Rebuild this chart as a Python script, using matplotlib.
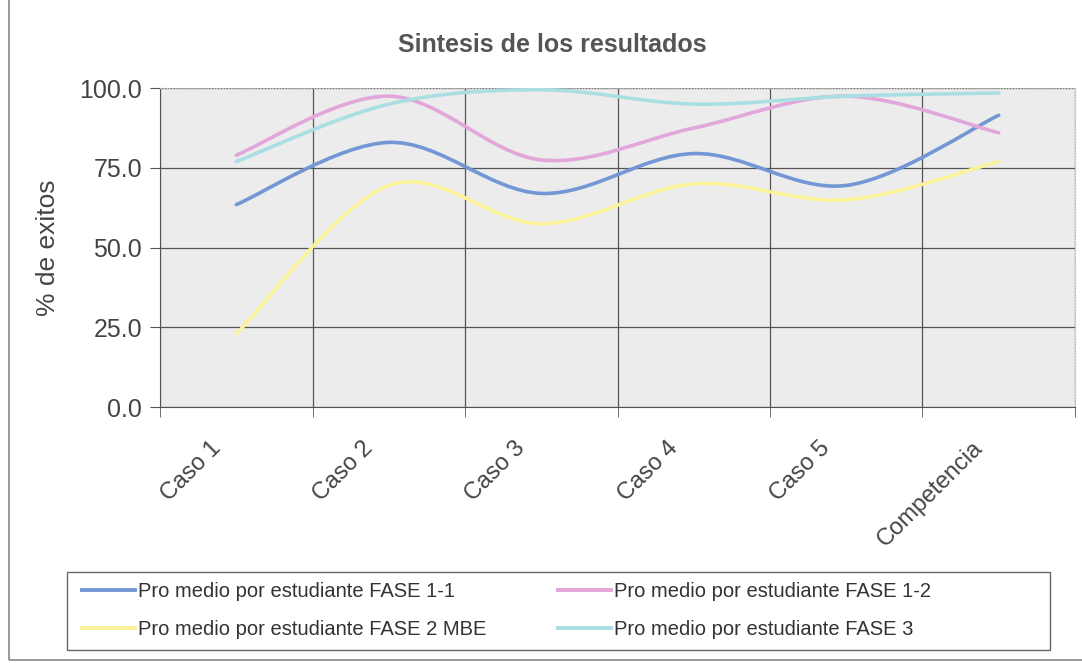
import numpy as np
import matplotlib
matplotlib.use("Agg")
import matplotlib.pyplot as plt
import matplotlib.transforms as mtrans
from matplotlib.path import Path
from matplotlib.patches import PathPatch, Rectangle
from matplotlib.lines import Line2D

plt.rcParams['font.family'] = ['Liberation Sans', 'DejaVu Sans']

categorias = ['Caso 1', 'Caso 2', 'Caso 3', 'Caso 4', 'Caso 5', 'Competencia']
fase_1_1 = [63.5, 83.0, 67.0, 79.5, 69.5, 91.5]
fase_1_2 = [79.0, 97.5, 77.5, 87.5, 97.5, 86.0]
fase_2_mbe = [23.0, 69.5, 57.5, 70.0, 65.0, 77.0]
fase_3 = [77.0, 95.0, 99.5, 95.0, 97.5, 98.5]

series = [
    ('Pro medio por estudiante FASE 1-1', fase_1_1, '#7396d4'),
    ('Pro medio por estudiante FASE 1-2', fase_1_2, '#e3a6db'),
    ('Pro medio por estudiante FASE 2 MBE', fase_2_mbe, '#fbf39a'),
    ('Pro medio por estudiante FASE 3', fase_3, '#a9dfe3'),
]


def smooth_path(x, y):
    # excel style smoothed line: cubic bezier, catmull-rom control points
    x = np.asarray(x, float)
    y = np.asarray(y, float)
    verts = [(x[0], y[0])]
    codes = [Path.MOVETO]
    n = len(x)
    for i in range(n - 1):
        p0 = (x[max(i - 1, 0)], y[max(i - 1, 0)])
        p1 = (x[i], y[i])
        p2 = (x[i + 1], y[i + 1])
        p3 = (x[min(i + 2, n - 1)], y[min(i + 2, n - 1)])
        c1 = (p1[0] + (p2[0] - p0[0]) / 6, p1[1] + (p2[1] - p0[1]) / 6)
        c2 = (p2[0] - (p3[0] - p1[0]) / 6, p2[1] - (p3[1] - p1[1]) / 6)
        verts += [c1, c2, p2]
        codes += [Path.CURVE4] * 3
    return Path(verts, codes)


fig = plt.figure(figsize=(10.82, 6.63), dpi=100)
ax = fig.add_axes([0.148, 0.386, 0.8455, 0.481])
ax.set_facecolor('#ececec')

xs = np.arange(len(categorias))
for label, vals, col in series:
    ax.add_patch(PathPatch(smooth_path(xs, vals), facecolor='none',
                           edgecolor=col, lw=2.6, capstyle='round', zorder=3))

ax.set_xlim(-0.5, len(categorias) - 0.5)
ax.set_ylim(0, 100)
ax.set_yticks([0, 25, 50, 75, 100])
ax.set_yticklabels(['%.1f' % v for v in [0, 25, 50, 75, 100]],
                   fontsize=18, color='#444444')
ax.set_xticks(xs)
ax.set_xticklabels([])
ax.set_xticks(np.arange(-0.5, len(categorias)), minor=True)
ax.tick_params(axis='x', which='major', length=0)
ax.tick_params(axis='x', which='minor', length=7, color='#555555')
ax.tick_params(axis='y', length=7, color='#555555', pad=6)

# category labels, rotated and set a bit left of the category centre
lab_tr = ax.get_xaxis_transform() + mtrans.ScaledTranslation(-0.27, -0.30, fig.dpi_scale_trans)
for i, c in enumerate(categorias):
    ax.text(xs[i], 0, c, transform=lab_tr, rotation=45, ha='right', va='top',
            rotation_mode='anchor', fontsize=17, color='#444444')

ax.grid(axis='y', color='#555555', lw=0.9)
ax.grid(axis='x', which='minor', color='#555555', lw=0.9)
ax.set_axisbelow(True)
for s in ['top', 'right']:
    ax.spines[s].set_color('#bbbbbb')
    ax.spines[s].set_linestyle(':')
for s in ['left', 'bottom']:
    ax.spines[s].set_color('#555555')

ax.set_ylabel('% de exitos', fontsize=19, color='#444444', labelpad=14)
fig.text(0.51, 0.932, 'Sintesis de los resultados', ha='center', va='center',
         fontsize=18, fontweight='bold', color='#555555')

handles = [Line2D([0], [0], color=c, lw=2.8) for _, _, c in series]
labels = [l for l, _, _ in series]
order = [0, 2, 1, 3]
leg = fig.legend([handles[i] for i in order], [labels[i] for i in order],
                 ncol=2, loc='center left', bbox_to_anchor=(0.076, 0.079),
                 fontsize=14.5, frameon=False, handlelength=2.6,
                 handletextpad=0.15, labelspacing=0.95, columnspacing=3.6,
                 borderpad=0, borderaxespad=0)
for t in leg.get_texts():
    t.set_color('#333333')

# legend box
fig.add_artist(Rectangle((0.062, 0.0196), 0.908, 0.118, transform=fig.transFigure,
                         fill=False, edgecolor='#666666', lw=1.0))

# chart border (scanned page edge)
fig.add_artist(Rectangle((0.008, 0.004), 1.2, 1.2, transform=fig.transFigure,
                         fill=False, edgecolor='#888888', lw=1.2))

fig.savefig('out.png', dpi=100)
